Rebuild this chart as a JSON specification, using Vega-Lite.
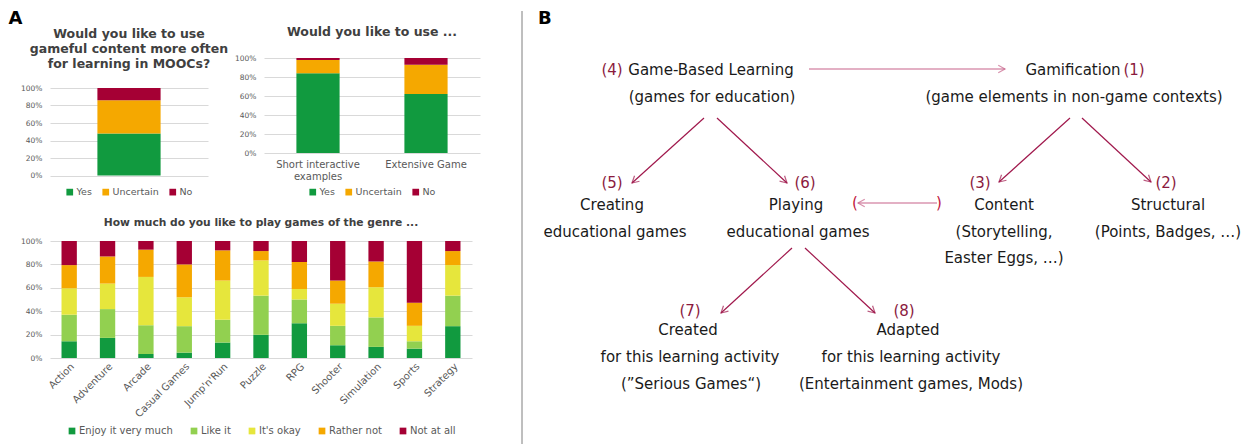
{
  "$schema": "https://vega.github.io/schema/vega-lite/v6.json",
  "padding": {"left": 8, "top": 9, "right": 0, "bottom": 0},
  "background": "white",
  "config": {
    "font": "DejaVu Sans",
    "view": {"stroke": null},
    "title": {"fontSize": 12.5, "fontWeight": "bold", "color": "#404040", "lineHeight": 15, "offset": 14},
    "axis": {"labelFont": "DejaVu Sans", "labelColor": "#595959", "domain": false, "ticks": false, "title": null, "gridColor": "#d9d9d9"},
    "axisY": {"labelFontSize": 7.5, "labelPadding": 8, "grid": true},
    "axisX": {"labelFontSize": 10, "grid": false},
    "legend": {"orient": "bottom", "direction": "horizontal", "title": null, "symbolType": "square", "symbolSize": 45, "symbolStrokeWidth": 0, "labelFontSize": 9.5, "labelColor": "#595959", "labelOffset": 2, "columnPadding": 9, "layout": {"bottom": {"anchor": "middle"}}}
  },
  "datasets": {
    "mooc": [
      {"question": "MOOCs", "answer": "Yes", "percent": 48},
      {"question": "MOOCs", "answer": "Uncertain", "percent": 38},
      {"question": "MOOCs", "answer": "No", "percent": 14}
    ],
    "format": [
      {"question": "Short interactive examples", "answer": "Yes", "percent": 84},
      {"question": "Short interactive examples", "answer": "Uncertain", "percent": 14},
      {"question": "Short interactive examples", "answer": "No", "percent": 2},
      {"question": "Extensive Game", "answer": "Yes", "percent": 62},
      {"question": "Extensive Game", "answer": "Uncertain", "percent": 31},
      {"question": "Extensive Game", "answer": "No", "percent": 7}
    ],
    "genres": [
      {"genre": "Action", "rating": "Enjoy it very much", "percent": 14.3},
      {"genre": "Action", "rating": "Like it", "percent": 22.7},
      {"genre": "Action", "rating": "It's okay", "percent": 22.6},
      {"genre": "Action", "rating": "Rather not", "percent": 19.8},
      {"genre": "Action", "rating": "Not at all", "percent": 20.6},
      {"genre": "Adventure", "rating": "Enjoy it very much", "percent": 17.2},
      {"genre": "Adventure", "rating": "Like it", "percent": 24.6},
      {"genre": "Adventure", "rating": "It's okay", "percent": 21.8},
      {"genre": "Adventure", "rating": "Rather not", "percent": 23.2},
      {"genre": "Adventure", "rating": "Not at all", "percent": 13.2},
      {"genre": "Arcade", "rating": "Enjoy it very much", "percent": 3.4},
      {"genre": "Arcade", "rating": "Like it", "percent": 24.6},
      {"genre": "Arcade", "rating": "It's okay", "percent": 41.3},
      {"genre": "Arcade", "rating": "Rather not", "percent": 23.3},
      {"genre": "Arcade", "rating": "Not at all", "percent": 7.4},
      {"genre": "Casual Games", "rating": "Enjoy it very much", "percent": 4.6},
      {"genre": "Casual Games", "rating": "Like it", "percent": 22.6},
      {"genre": "Casual Games", "rating": "It's okay", "percent": 24.7},
      {"genre": "Casual Games", "rating": "Rather not", "percent": 28.1},
      {"genre": "Casual Games", "rating": "Not at all", "percent": 20.0},
      {"genre": "Jump'n'Run", "rating": "Enjoy it very much", "percent": 13.2},
      {"genre": "Jump'n'Run", "rating": "Like it", "percent": 19.5},
      {"genre": "Jump'n'Run", "rating": "It's okay", "percent": 33.5},
      {"genre": "Jump'n'Run", "rating": "Rather not", "percent": 25.8},
      {"genre": "Jump'n'Run", "rating": "Not at all", "percent": 8.0},
      {"genre": "Puzzle", "rating": "Enjoy it very much", "percent": 19.8},
      {"genre": "Puzzle", "rating": "Like it", "percent": 33.5},
      {"genre": "Puzzle", "rating": "It's okay", "percent": 30.1},
      {"genre": "Puzzle", "rating": "Rather not", "percent": 8.0},
      {"genre": "Puzzle", "rating": "Not at all", "percent": 8.6},
      {"genre": "RPG", "rating": "Enjoy it very much", "percent": 29.8},
      {"genre": "RPG", "rating": "Like it", "percent": 20.3},
      {"genre": "RPG", "rating": "It's okay", "percent": 8.9},
      {"genre": "RPG", "rating": "Rather not", "percent": 23.0},
      {"genre": "RPG", "rating": "Not at all", "percent": 18.0},
      {"genre": "Shooter", "rating": "Enjoy it very much", "percent": 10.9},
      {"genre": "Shooter", "rating": "Like it", "percent": 16.6},
      {"genre": "Shooter", "rating": "It's okay", "percent": 18.9},
      {"genre": "Shooter", "rating": "Rather not", "percent": 19.8},
      {"genre": "Shooter", "rating": "Not at all", "percent": 33.8},
      {"genre": "Simulation", "rating": "Enjoy it very much", "percent": 9.5},
      {"genre": "Simulation", "rating": "Like it", "percent": 25.2},
      {"genre": "Simulation", "rating": "It's okay", "percent": 25.8},
      {"genre": "Simulation", "rating": "Rather not", "percent": 22.0},
      {"genre": "Simulation", "rating": "Not at all", "percent": 17.5},
      {"genre": "Sports", "rating": "Enjoy it very much", "percent": 8.0},
      {"genre": "Sports", "rating": "Like it", "percent": 6.3},
      {"genre": "Sports", "rating": "It's okay", "percent": 13.2},
      {"genre": "Sports", "rating": "Rather not", "percent": 19.8},
      {"genre": "Sports", "rating": "Not at all", "percent": 52.7},
      {"genre": "Strategy", "rating": "Enjoy it very much", "percent": 27.2},
      {"genre": "Strategy", "rating": "Like it", "percent": 26.1},
      {"genre": "Strategy", "rating": "It's okay", "percent": 26.1},
      {"genre": "Strategy", "rating": "Rather not", "percent": 12.0},
      {"genre": "Strategy", "rating": "Not at all", "percent": 8.6}
    ],
    "nodes": [
      {"x": 612, "y": 69, "text": "(4)", "role": "num"},
      {"x": 711, "y": 69, "text": "Game-Based Learning", "role": "node"},
      {"x": 712, "y": 96, "text": "(games for education)", "role": "node"},
      {"x": 1073, "y": 69, "text": "Gamification", "role": "node"},
      {"x": 1134, "y": 69, "text": "(1)", "role": "num"},
      {"x": 1074, "y": 96, "text": "(game elements in non-game contexts)", "role": "node"},
      {"x": 612, "y": 182, "text": "(5)", "role": "num"},
      {"x": 612, "y": 204, "text": "Creating", "role": "node"},
      {"x": 615, "y": 231, "text": "educational games", "role": "node"},
      {"x": 805, "y": 182, "text": "(6)", "role": "num"},
      {"x": 796, "y": 204, "text": "Playing", "role": "node"},
      {"x": 798, "y": 231, "text": "educational games", "role": "node"},
      {"x": 855, "y": 202, "text": "(", "role": "paren"},
      {"x": 939, "y": 202, "text": ")", "role": "paren"},
      {"x": 980, "y": 182, "text": "(3)", "role": "num"},
      {"x": 1004, "y": 204, "text": "Content", "role": "node"},
      {"x": 1004, "y": 231, "text": "(Storytelling,", "role": "node"},
      {"x": 1004, "y": 257, "text": "Easter Eggs, …)", "role": "node"},
      {"x": 1166, "y": 182, "text": "(2)", "role": "num"},
      {"x": 1168, "y": 204, "text": "Structural", "role": "node"},
      {"x": 1168, "y": 231, "text": "(Points, Badges, …)", "role": "node"},
      {"x": 690, "y": 310, "text": "(7)", "role": "num"},
      {"x": 688, "y": 329, "text": "Created", "role": "node"},
      {"x": 690, "y": 356, "text": "for this learning activity", "role": "node"},
      {"x": 691, "y": 383, "text": "(”Serious Games“)", "role": "node"},
      {"x": 904, "y": 310, "text": "(8)", "role": "num"},
      {"x": 908, "y": 329, "text": "Adapted", "role": "node"},
      {"x": 911, "y": 356, "text": "for this learning activity", "role": "node"},
      {"x": 911, "y": 383, "text": "(Entertainment games, Mods)", "role": "node"}
    ],
    "arrows": [
      {"x": 809, "y": 68, "x2": 1005, "y2": 68, "role": "link"},
      {"x": 704, "y": 117, "x2": 632, "y2": 182, "role": "main"},
      {"x": 717, "y": 117, "x2": 787, "y2": 182, "role": "main"},
      {"x": 1070, "y": 117, "x2": 999, "y2": 181, "role": "main"},
      {"x": 1082, "y": 117, "x2": 1151, "y2": 181, "role": "main"},
      {"x": 937, "y": 202, "x2": 858, "y2": 202, "role": "link"},
      {"x": 792, "y": 247, "x2": 721, "y2": 312, "role": "main"},
      {"x": 805, "y": 247, "x2": 875, "y2": 312, "role": "main"}
    ],
    "divider": [{"x": 522, "top": 10, "bottom": 444}],
    "panel": [{"x": 538, "y": 18, "label": "B"}]
  },
  "resolve": {"scale": {"color": "independent"}, "legend": {"color": "independent"}},
  "spacing": 35,
  "align": "none",
  "hconcat": [
    {
      "title": {"text": "A", "anchor": "start", "frame": "bounds", "fontSize": 18, "fontWeight": "bold", "color": "#000000", "offset": -2, "dx": -12},
      "spacing": 20,
      "resolve": {"scale": {"color": "independent"}, "legend": {"color": "independent"}},
      "vconcat": [
        {
          "spacing": 5,
          "align": "none",
          "resolve": {"scale": {"color": "independent"}, "legend": {"color": "independent"}},
          "hconcat": [
            {
              "width": 158,
              "height": 100.5,
              "title": {"text": ["Would you like to use", "gameful content more often", "for learning in MOOCs?"], "offset": 5},
              "data": {"name": "mooc"},
              "transform": [{"calculate": "indexof(['Yes','Uncertain','No'], datum.answer)", "as": "stackOrder"}],
              "mark": "bar",
              "encoding": {
                "x": {"field": "question", "type": "nominal", "axis": null, "scale": {"paddingInner": 0.6, "paddingOuter": 0.3}},
                "y": {"field": "percent", "type": "quantitative", "stack": "zero", "scale": {"domain": [0, 100], "nice": false, "range": [100.5, 13]}, "axis": {"values": [0, 20, 40, 60, 80, 100], "labelExpr": "datum.value + '%'"}},
                "color": {"field": "answer", "type": "nominal", "sort": ["Yes", "Uncertain", "No"], "scale": {"domain": ["Yes", "Uncertain", "No"], "range": ["#119A3F", "#F5A800", "#A50034"]}, "legend": {"offset": 11}},
                "order": {"field": "stackOrder", "type": "quantitative"}
              }
            },
            {
              "width": 216,
              "height": 78,
              "title": {"text": "Would you like to use ...", "offset": 16},
              "data": {"name": "format"},
              "transform": [{"calculate": "indexof(['Yes','Uncertain','No'], datum.answer)", "as": "stackOrder"}],
              "mark": "bar",
              "encoding": {
                "x": {"field": "question", "type": "nominal", "sort": null, "scale": {"paddingInner": 0.6, "paddingOuter": 0.3}, "axis": {"labelAngle": 0, "labelPadding": 6, "labelLineHeight": 12, "labelExpr": "datum.label == 'Short interactive examples' ? ['Short interactive', 'examples'] : datum.label"}},
                "y": {"field": "percent", "type": "quantitative", "stack": "zero", "scale": {"domain": [0, 100], "nice": false, "range": [78, -17]}, "axis": {"values": [0, 20, 40, 60, 80, 100], "labelExpr": "datum.value + '%'"}},
                "color": {"field": "answer", "type": "nominal", "sort": ["Yes", "Uncertain", "No"], "scale": {"domain": ["Yes", "Uncertain", "No"], "range": ["#119A3F", "#F5A800", "#A50034"]}, "legend": {"offset": 6}},
                "order": {"field": "stackOrder", "type": "quantitative"}
              }
            }
          ]
        },
        {
          "width": 422,
          "height": 117,
          "title": {"text": "How much do you like to play games of the genre ...", "fontSize": 10.7, "offset": 8},
          "data": {"name": "genres"},
          "transform": [{"calculate": "indexof(['Enjoy it very much','Like it',\"It's okay\",'Rather not','Not at all'], datum.rating)", "as": "stackOrder"}],
          "mark": "bar",
          "encoding": {
            "x": {"field": "genre", "type": "nominal", "sort": null, "scale": {"paddingInner": 0.6, "paddingOuter": 0.3}, "axis": {"labelAngle": -45, "labelPadding": 3}},
            "y": {"field": "percent", "type": "quantitative", "stack": "zero", "scale": {"domain": [0, 100], "nice": false}, "axis": {"values": [0, 20, 40, 60, 80, 100], "labelExpr": "datum.value + '%'"}},
            "color": {"field": "rating", "type": "nominal", "sort": ["Enjoy it very much", "Like it", "It's okay", "Rather not", "Not at all"], "scale": {"domain": ["Enjoy it very much", "Like it", "It's okay", "Rather not", "Not at all"], "range": ["#119A3F", "#92D050", "#E6E63C", "#F5A800", "#A50034"]}, "legend": {"offset": 7, "columnPadding": 16, "labelFontSize": 10}},
            "order": {"field": "stackOrder", "type": "quantitative"}
          }
        }
      ]
    },
    {
      "width": 733,
      "height": 370,
      "layer": [
        {
          "data": {"name": "divider"},
          "mark": {"type": "rule", "color": "#7f7f7f", "strokeWidth": 1},
          "encoding": {
            "x": {"field": "x", "type": "quantitative", "scale": {"domain": [515, 1248], "nice": false, "zero": false}, "axis": null},
            "y": {"field": "top", "type": "quantitative", "scale": {"domain": [74, 444], "nice": false, "zero": false, "reverse": true}, "axis": null},
            "y2": {"field": "bottom"}
          }
        },
        {
          "data": {"name": "arrows"},
          "mark": {"type": "rule", "strokeWidth": 1.2},
          "encoding": {
            "x": {"field": "x", "type": "quantitative", "scale": {"domain": [515, 1248], "nice": false, "zero": false}, "axis": null},
            "y": {"field": "y", "type": "quantitative", "scale": {"domain": [74, 444], "nice": false, "zero": false, "reverse": true}, "axis": null},
            "x2": {"field": "x2"},
            "y2": {"field": "y2"},
            "color": {"field": "role", "type": "nominal", "scale": {"domain": ["node", "num", "paren", "main", "link"], "range": ["#1a1a1a", "#8B1A3E", "#C0143C", "#A0184C", "#C8628A"]}, "legend": null}
          }
        },
        {
          "data": {"name": "arrows"},
          "transform": [{"calculate": "atan2(datum.y2 - datum.y, datum.x2 - datum.x) * 180 / PI", "as": "angle"}],
          "mark": {"type": "point", "shape": "M-1.1,-0.6L0,0L-1.1,0.6", "filled": false, "size": 150, "strokeWidth": 1.2},
          "encoding": {
            "x": {"field": "x2", "type": "quantitative", "scale": {"domain": [515, 1248], "nice": false, "zero": false}, "axis": null},
            "y": {"field": "y2", "type": "quantitative", "scale": {"domain": [74, 444], "nice": false, "zero": false, "reverse": true}, "axis": null},
            "angle": {"field": "angle", "type": "quantitative", "scale": null},
            "color": {"field": "role", "type": "nominal", "scale": {"domain": ["node", "num", "paren", "main", "link"], "range": ["#1a1a1a", "#8B1A3E", "#C0143C", "#A0184C", "#C8628A"]}, "legend": null}
          }
        },
        {
          "data": {"name": "nodes"},
          "mark": {"type": "text", "font": "DejaVu Sans", "fontSize": 15, "align": "center", "baseline": "middle"},
          "encoding": {
            "x": {"field": "x", "type": "quantitative", "scale": {"domain": [515, 1248], "nice": false, "zero": false}, "axis": null},
            "y": {"field": "y", "type": "quantitative", "scale": {"domain": [74, 444], "nice": false, "zero": false, "reverse": true}, "axis": null},
            "text": {"field": "text", "type": "nominal"},
            "color": {"field": "role", "type": "nominal", "scale": {"domain": ["node", "num", "paren", "main", "link"], "range": ["#1a1a1a", "#8B1A3E", "#C0143C", "#A0184C", "#C8628A"]}, "legend": null}
          }
        },
        {
          "data": {"name": "panel"},
          "mark": {"type": "text", "font": "DejaVu Sans", "fontSize": 18, "fontWeight": "bold", "align": "left", "baseline": "middle", "color": "#000000"},
          "encoding": {
            "x": {"field": "x", "type": "quantitative", "scale": {"domain": [515, 1248], "nice": false, "zero": false}, "axis": null},
            "y": {"field": "y", "type": "quantitative", "scale": {"domain": [74, 444], "nice": false, "zero": false, "reverse": true}, "axis": null},
            "text": {"field": "label", "type": "nominal"}
          }
        }
      ]
    }
  ]
}
